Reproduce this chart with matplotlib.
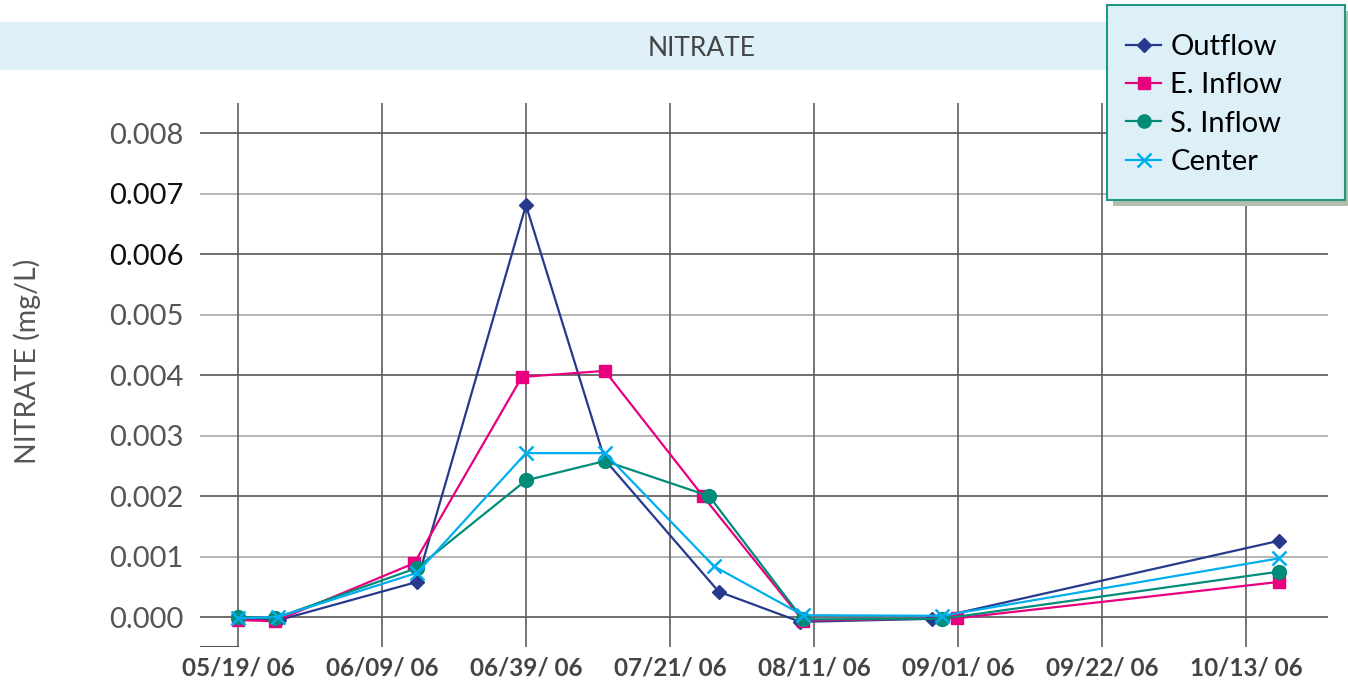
import matplotlib
matplotlib.use("Agg")
import matplotlib.pyplot as plt
from matplotlib.patches import Rectangle
from matplotlib.lines import Line2D

plt.rcParams['font.family'] = ['Lato', 'DejaVu Sans']

# Data: x = days since 05/19/06, y = nitrate (mg/L)
outflow_days = [0, 6.0, 26.1, 42.0, 53.5, 70.1, 82.0, 101.2, 151.8]
outflow_vals = [-0.00003, -0.00005, 0.00058, 0.00681, 0.00260, 0.00042, -0.00008, -0.00003, 0.00126]

e_inflow_days = [0, 5.4, 25.7, 41.4, 53.5, 67.8, 82.4, 104.9, 151.8]
e_inflow_vals = [-0.00005, -0.00007, 0.00089, 0.00397, 0.00407, 0.00200, -0.00006, -0.00002, 0.00058]

s_inflow_days = [0, 5.4, 26.1, 42.0, 53.5, 68.7, 82.4, 102.7, 151.8]
s_inflow_vals = [0.00000, -0.00002, 0.00081, 0.00226, 0.00258, 0.00200, -0.00004, -0.00003, 0.00075]

center_days = [0, 5.8, 26.1, 42.0, 53.5, 69.4, 82.4, 102.7, 151.8]
center_vals = [-0.00002, 0.00000, 0.00073, 0.00271, 0.00271, 0.00084, 0.00003, 0.00002, 0.00097]

tick_days = [0, 21, 42, 63, 84, 105, 126, 147]
tick_labels = ["05/19/ 06", "06/09/ 06", "06/39/ 06", "07/21/ 06",
               "08/11/ 06", "09/01/ 06", "09/22/ 06", "10/13/ 06"]
y_ticks = [0.000, 0.001, 0.002, 0.003, 0.004, 0.005, 0.006, 0.007, 0.008]
y_labels = ["0.000", "0.001", "0.002", "0.003", "0.004", "0.005", "0.006", "0.007", "0.008"]

W, H = 1348, 683
fig = plt.figure(figsize=(W / 100, H / 100), dpi=100)

def fx(px):
    return px / W

def fy(py):
    return 1 - py / H

ax = fig.add_axes([fx(200), fy(647), fx(1328) - fx(200), fy(103) - fy(647)])

series = [
    ("Outflow", outflow_days, outflow_vals, "#27398c", "D", 7.5, 1.0),
    ("E. Inflow", e_inflow_days, e_inflow_vals, "#e8007f", "s", 8.5, 1.0),
    ("S. Inflow", s_inflow_days, s_inflow_vals, "#008c78", "o", 10, 1.0),
    ("Center", center_days, center_vals, "#00aeef", "x", 10, 1.8),
]

handles = []
for name, xs, ys, col, mk, ms, mew in series:
    ax.plot(xs, ys, color=col, lw=1.6, marker=mk, ms=ms, mew=mew,
            mfc=col, mec=col, label=name, zorder=3, clip_on=False)
    handles.append(Line2D([0], [0], color=col, lw=1.6, marker=mk,
                          ms=ms * 0.95, mew=mew, mfc=col, mec=col))

ax.set_xlim(-5.54, 158.96)
ax.set_ylim(-0.000496, 0.0085)

# gridlines (alternating shades horizontally)
for i, v in enumerate(y_ticks):
    ax.axhline(v, color="#555555" if i % 2 == 0 else "#aaaaaa", lw=1.2, zorder=1)
for d in tick_days:
    ax.axvline(d, color="#606060", lw=1.2, zorder=1)
# short bottom segment left of first date line
ax.axhline(-0.000496, xmin=0, xmax=(238 - 200) / (1328 - 200), color="#555555", lw=1.5, zorder=1)

for s in ax.spines.values():
    s.set_visible(False)

ax.set_xticks(tick_days)
ax.set_xticklabels(tick_labels, fontsize=17.5, fontweight="bold", color="#444444")
ax.set_yticks(y_ticks)
ax.set_yticklabels(y_labels, fontsize=21, color="#555555")
for lbl in ax.get_yticklabels():
    if lbl.get_text() in ("0.006", "0.007"):
        lbl.set_color("#111111")
ax.tick_params(axis="both", length=0)
ax.tick_params(axis="y", pad=12)
ax.tick_params(axis="x", pad=7)

fig.text(fx(27), fy(361), "NITRATE (mg/L)", rotation=90, ha="center", va="center",
         fontsize=20.5, color="#555555")

# title band
fig.patches.append(Rectangle((0, fy(70)), 1, fy(22) - fy(70), transform=fig.transFigure,
                             facecolor="#dff0f8", edgecolor="none", zorder=0.5))
fig.text(fx(702), fy(48), "NITRATE", ha="center", va="center", fontsize=19, color="#444444")

# legend box with shadow
fig.patches.append(Rectangle((fx(1113), fy(206)), fx(1345) - fx(1107), fy(5) - fy(200),
                             transform=fig.transFigure, facecolor="#b3bfae",
                             edgecolor="none", zorder=5))
fig.patches.append(Rectangle((fx(1107), fy(200)), fx(1345) - fx(1107), fy(5) - fy(200),
                             transform=fig.transFigure, facecolor="#ddf0f8",
                             edgecolor="#1f9686", lw=1.5, zorder=6))
leg = fig.legend(handles, [s[0] for s in series], loc="upper left",
                 bbox_to_anchor=(fx(1126), fy(34)), frameon=False, fontsize=21,
                 handlelength=1.2, handletextpad=0.32, labelspacing=0.42,
                 borderaxespad=0, borderpad=0)
leg.set_zorder(7)

fig.savefig("out.png", dpi=100)
